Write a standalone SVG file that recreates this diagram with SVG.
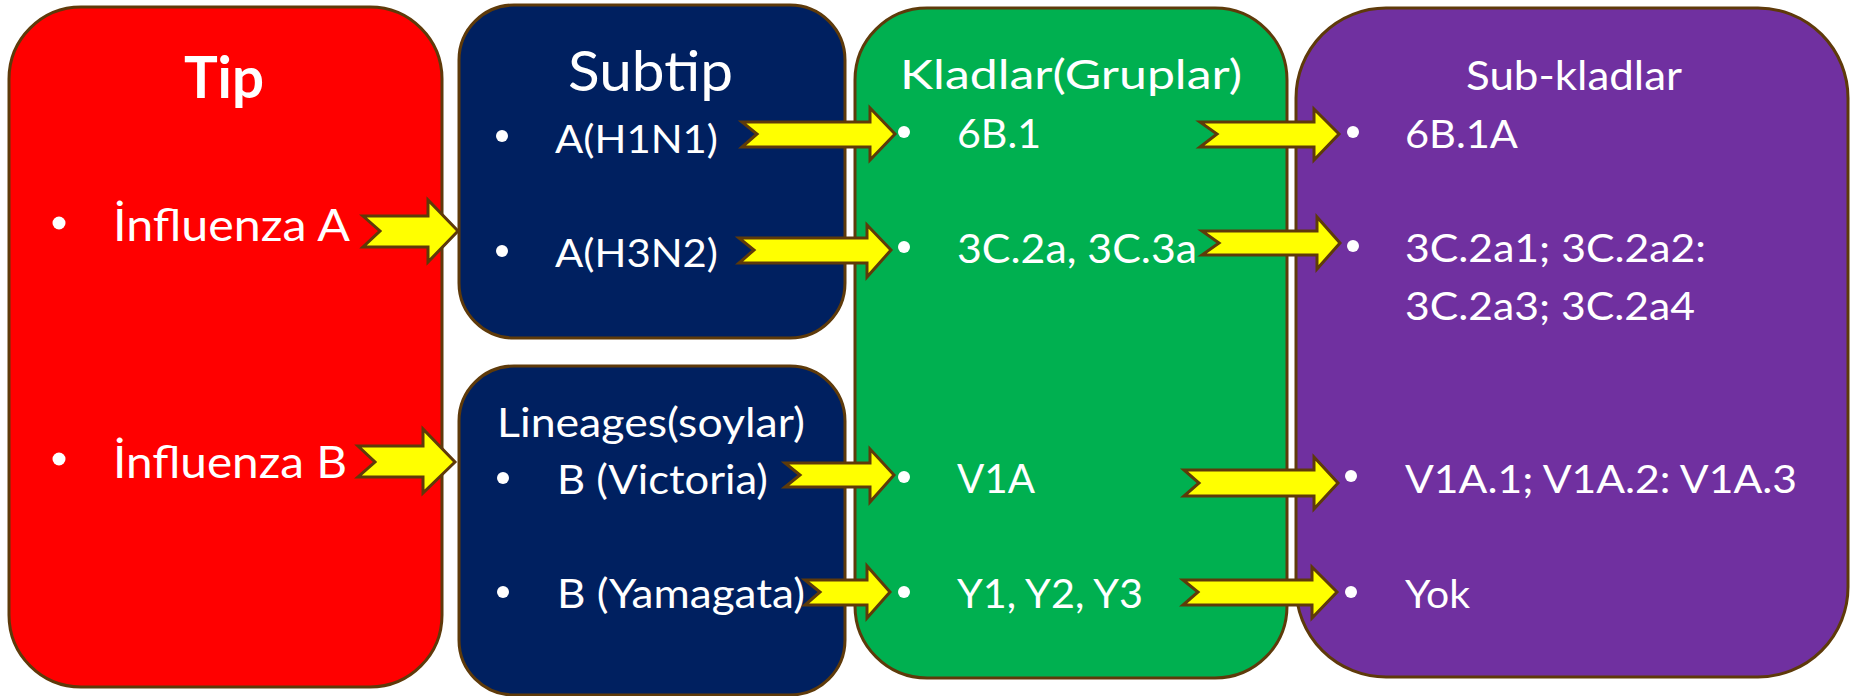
<svg xmlns="http://www.w3.org/2000/svg" width="1852" height="696" viewBox="0 0 1852 696">
<style>
.box{stroke:#5E3A0A;stroke-width:3}
.t{fill:#fff;font-family:Lato,"Liberation Sans",sans-serif}
.b{fill:#fff}
.arr{fill:#FFFF00;stroke:#5E3A0A;stroke-width:3;stroke-linejoin:miter}
</style>
<rect width="1852" height="696" fill="#fff"/>
<g id="tip">
<rect class="box" x="9" y="7" width="433" height="680" rx="72" ry="72" fill="#FF0000"/>
<text class="t" x="184" y="98" font-size="57" font-weight="bold" textLength="80" lengthAdjust="spacingAndGlyphs">Tip</text>
<circle class="b" cx="59" cy="223" r="6.5"/>
<text class="t" x="113" y="241" font-size="45" textLength="237" lengthAdjust="spacingAndGlyphs">İnfluenza A</text>
<circle class="b" cx="59" cy="459" r="6.5"/>
<text class="t" x="113" y="478" font-size="45" textLength="234" lengthAdjust="spacingAndGlyphs">İnfluenza B</text>
</g>
<g id="subtip">
<rect class="box" x="459" y="5" width="386" height="333" rx="55" ry="55" fill="#002060"/>
<text class="t" x="568" y="91" font-size="57" textLength="165" lengthAdjust="spacingAndGlyphs">Subtip</text>
<circle class="b" cx="502" cy="136" r="6"/>
<text class="t" x="555" y="153" font-size="39" textLength="163" lengthAdjust="spacingAndGlyphs">A(H1N1)</text>
<circle class="b" cx="502" cy="251" r="6"/>
<text class="t" x="555" y="267" font-size="39" textLength="163" lengthAdjust="spacingAndGlyphs">A(H3N2)</text>
</g>
<g id="lineages">
<rect class="box" x="459" y="366" width="386" height="329" rx="55" ry="55" fill="#002060"/>
<text class="t" x="497" y="437" font-size="41" textLength="308" lengthAdjust="spacingAndGlyphs">Lineages(soylar)</text>
<circle class="b" cx="503" cy="478" r="6"/>
<text class="t" x="557" y="494" font-size="40" textLength="211" lengthAdjust="spacingAndGlyphs">B (Victoria)</text>
<circle class="b" cx="503" cy="592" r="6"/>
<text class="t" x="557" y="608" font-size="40" textLength="248" lengthAdjust="spacingAndGlyphs">B (Yamagata)</text>
</g>
<g id="kladlar">
<rect class="box" x="855" y="8" width="432" height="670" rx="72" ry="72" fill="#00B050"/>
<text class="t" x="900" y="89" font-size="40" textLength="342" lengthAdjust="spacingAndGlyphs">Kladlar(Gruplar)</text>
<circle class="b" cx="904" cy="132" r="6"/>
<text class="t" x="957" y="148" font-size="41" textLength="84" lengthAdjust="spacingAndGlyphs">6B.1</text>
<circle class="b" cx="904" cy="247" r="6"/>
<text class="t" x="957" y="263" font-size="41" textLength="240" lengthAdjust="spacingAndGlyphs">3C.2a, 3C.3a</text>
<circle class="b" cx="904" cy="477" r="6"/>
<text class="t" x="957" y="493" font-size="41" textLength="78" lengthAdjust="spacingAndGlyphs">V1A</text>
<circle class="b" cx="904" cy="592" r="6"/>
<text class="t" x="957" y="608" font-size="41" textLength="186" lengthAdjust="spacingAndGlyphs">Y1, Y2, Y3</text>
</g>
<g id="subkladlar">
<rect class="box" x="1296" y="8" width="552" height="669" rx="90" ry="90" fill="#7030A0"/>
<text class="t" x="1466" y="90" font-size="41" textLength="216" lengthAdjust="spacingAndGlyphs">Sub-kladlar</text>
<circle class="b" cx="1353" cy="132" r="6"/>
<text class="t" x="1405" y="148" font-size="39" textLength="113" lengthAdjust="spacingAndGlyphs">6B.1A</text>
<circle class="b" cx="1353" cy="246" r="6"/>
<text class="t" x="1405" y="262" font-size="39" textLength="301" lengthAdjust="spacingAndGlyphs">3C.2a1; 3C.2a2:</text>
<text class="t" x="1405" y="320" font-size="39" textLength="290" lengthAdjust="spacingAndGlyphs">3C.2a3; 3C.2a4</text>
<circle class="b" cx="1351" cy="476" r="6"/>
<text class="t" x="1405" y="493" font-size="39" textLength="392" lengthAdjust="spacingAndGlyphs">V1A.1; V1A.2: V1A.3</text>
<circle class="b" cx="1351" cy="592" r="6"/>
<text class="t" x="1405" y="608" font-size="39" textLength="65" lengthAdjust="spacingAndGlyphs">Yok</text>
</g>
<g id="connectors">
<polygon class="arr" points="363,216 428,216 428,200 458,231 428,262 428,247 363,247 380,231"/>
<polygon class="arr" points="358,446 423,446 423,429 455,462 423,493 423,477 358,477 375,462"/>
<polygon class="arr" points="742,122 870,122 870,108 895,134 870,160 870,147 742,147 757,134"/>
<polygon class="arr" points="739,238 867,238 867,225 891,250 867,277 867,263 739,263 754,250"/>
<polygon class="arr" points="785,463 870,463 870,449 894,475 870,502 870,487 785,487 800,475"/>
<polygon class="arr" points="805,580 867,580 867,566 890,592 867,618 867,605 805,605 820,592"/>
<polygon class="arr" points="1200,122 1314,122 1314,109 1339,134 1314,160 1314,147 1200,147 1217,134"/>
<polygon class="arr" points="1202,231 1317,231 1317,217 1340,243 1317,269 1317,255 1202,255 1219,243"/>
<polygon class="arr" points="1184,470 1314,470 1314,457 1338,483 1314,509 1314,496 1184,496 1199,483"/>
<polygon class="arr" points="1183,580 1312,580 1312,567 1337,592 1312,618 1312,605 1183,605 1198,592"/>
</g>
</svg>
